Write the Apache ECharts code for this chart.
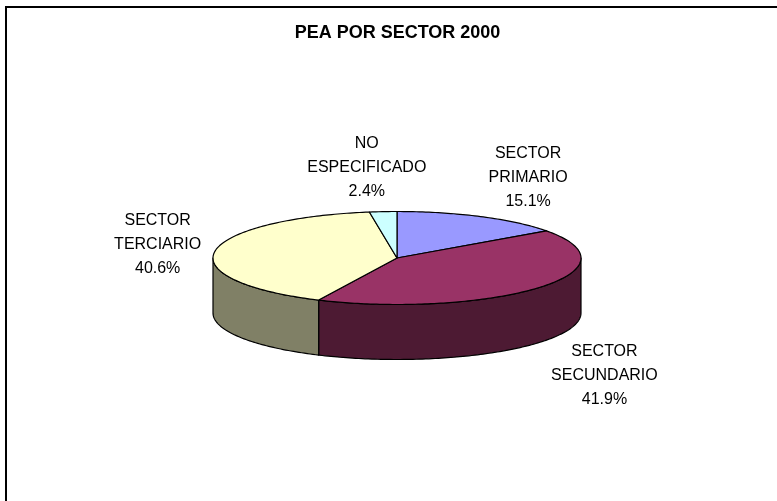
<!DOCTYPE html>
<html>
<head>
<meta charset="utf-8">
<script src="https://cdn.jsdelivr.net/npm/echarts@6/dist/echarts.min.js"></script>
<style>
  html, body { margin: 0; padding: 0; background: #fff; }
  #chart { width: 777px; height: 501px; }
</style>
</head>
<body>
<div id="chart"></div>
<script>
const chartTitle = 'PEA POR SECTOR 2000';
const categories = ['SECTOR PRIMARIO', 'SECTOR SECUNDARIO', 'SECTOR TERCIARIO', 'NO ESPECIFICADO'];
const values = [15.1, 41.9, 40.6, 2.4];
const topColors = ['#9999FF', '#993366', '#FFFFCC', '#CCFFFF'];
const sideColors = ['#4D4D80', '#4D1A33', '#808066', '#668080'];

// pie layout (3d look: ellipse + depth)
const cx = 397, cy = 258, rx = 184, ry = 46.5, depth = 55;
const labelFont = '16px "Liberation Sans", Arial, sans-serif';
const lineH = 24;

const total = values.reduce((a, b) => a + b, 0);
const starts = [];
let acc = 0;
values.forEach(v => { starts.push(acc / total * 360); acc += v; });

const measure = document.createElement('canvas').getContext('2d');
measure.font = labelFont;

function pt(deg, dy) {
  const r = deg * Math.PI / 180;
  return [cx + rx * Math.sin(r), cy - ry * Math.cos(r) + (dy || 0)];
}

function renderItem(params, api) {
  const i = params.dataIndex;
  const v = api.value(0);
  const a0 = starts[i];
  const a1 = a0 + v / total * 360;
  const children = [];

  // top face
  const top = [[cx, cy]];
  for (let a = a0; a < a1; a += 1) top.push(pt(a));
  top.push(pt(a1));
  children.push({
    type: 'polygon', z2: 10,
    shape: { points: top },
    style: { fill: topColors[i], stroke: '#000', lineWidth: 1.2, lineJoin: 'round' }
  });

  // front wall, only the part facing the viewer
  const s0 = Math.max(a0, 90), s1 = Math.min(a1, 270);
  if (s1 > s0) {
    const up = [], down = [];
    for (let a = s0; a < s1; a += 1) { up.push(pt(a)); down.push(pt(a, depth)); }
    up.push(pt(s1)); down.push(pt(s1, depth));
    children.push({
      type: 'polygon', z2: 1,
      shape: { points: up.concat(down.reverse()) },
      style: { fill: sideColors[i], stroke: '#000', lineWidth: 1.2, lineJoin: 'round' }
    });
  }

  // label outside the slice
  const mid = (a0 + a1) / 2 * Math.PI / 180;
  const s = Math.sin(mid), c = Math.cos(mid);
  const front = c < 0;
  const e = pt((a0 + a1) / 2, front ? depth : 0);
  const lines = categories[i].split(' ');
  lines.push(v.toFixed(1) + '%');
  const w = Math.max(...lines.map(l => measure.measureText(l).width));
  const h = lines.length * lineH;
  children.push({
    type: 'text', z2: 20,
    x: e[0] + (w / 2 + 14) * Math.tanh(3 * s),
    y: e[1] - (h / 2 + (front ? 16 : 8)) * c,
    style: {
      text: lines.join('\n'),
      font: labelFont,
      lineHeight: lineH,
      fill: '#000',
      align: 'center',
      verticalAlign: 'middle'
    }
  });

  return { type: 'group', children };
}

const myChart = echarts.init(document.getElementById('chart'), null, { renderer: 'canvas' });
const option = {
  animation: false,
  backgroundColor: '#fff',
  graphic: [
    {
      type: 'rect',
      shape: { x: 6, y: 7, width: 900, height: 700 },
      style: { fill: 'none', stroke: '#000', lineWidth: 2 }
    },
    {
      type: 'text',
      x: 397.5, y: 33,
      style: {
        text: chartTitle,
        font: 'bold 18px "Liberation Sans", Arial, sans-serif',
        fill: '#000',
        align: 'center',
        verticalAlign: 'middle'
      }
    }
  ],
  series: [
    {
      type: 'custom',
      coordinateSystem: 'none',
      renderItem: renderItem,
      data: categories.map((name, i) => ({ name, value: values[i] }))
    }
  ]
};
myChart.setOption(option);
</script>
</body>
</html>
